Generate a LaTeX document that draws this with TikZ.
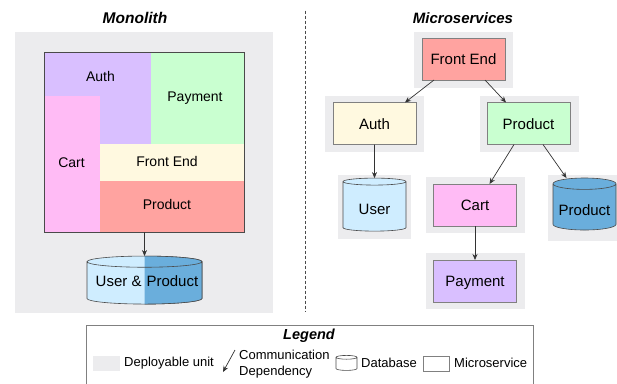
\documentclass[tikz,border=0pt]{standalone}
\usepackage{fontspec}
\setmainfont{Liberation Sans}
\usetikzlibrary{arrows.meta, shapes.geometric}
\definecolor{unitgray}{HTML}{ECECEE}
\definecolor{edgegray}{HTML}{4A4A4A}
\definecolor{authpurple}{HTML}{D9BFFF}
\definecolor{paygreen}{HTML}{C9FFD0}
\definecolor{frontyellow}{HTML}{FFF9E0}
\definecolor{cartpink}{HTML}{FFBBF5}
\definecolor{prodred}{HTML}{FFA3A0}
\definecolor{dblight}{HTML}{CFEDFF}
\definecolor{dbdark}{HTML}{6AAEDC}
\newcommand{\px}[1]{\fontsize{#1}{#1}\selectfont}

\begin{document}
\begin{tikzpicture}[
        x=1pt, y=-1pt,
        unitbox/.style={fill=unitgray, inner sep=0pt, outer sep=0pt, minimum width=99pt, minimum height=56pt},
        svcbox/.style={draw=gray, line width=0.7pt, inner sep=0pt, outer sep=0pt, minimum width=83pt, minimum height=42pt, text height=11pt, text depth=0pt, font=\px{15}},
        block/.style={inner sep=0pt, outer sep=0pt, text height=10pt, text depth=0pt, font=\px{14}},
        dbnode/.style={cylinder, shape border rotate=90, draw=edgegray, line width=0.6pt, aspect=0.22, inner sep=0pt, outer sep=0pt, font=\px{15}},
        dblabel/.style={inner sep=0pt, font=\px{15}},
        title/.style={font=\px{15.5}\bfseries\itshape},
        legendtext/.style={font=\px{13}, inner sep=0pt},
        dep/.style={-{Stealth[length=6pt, width=5pt]}, draw=black!80, line width=0.7pt}]

        \clip (0,0) rectangle (617,383);

        % --- MONOLITH ---
        \node[title] (monotitle) at (135,18) {Monolith};
        \node[fill=unitgray, inner sep=0pt, minimum width=258pt, minimum height=281pt] (monounit) at (144,172.5) {};

        % Auth is L-shaped, so it is filled by hand
        \fill[authpurple] (44.5,52) -- (151,52) -- (151,144) -- (100,144) -- (100,96) -- (44.5,96) -- cycle;
        \node[block] (monoauth) at (100.5,76) {Auth};
        \node[block, fill=paygreen, minimum width=93.5pt, minimum height=92pt] (monopay) at (197.75,98) {};
        \node[block] at (195,96) {Payment};
        \node[block, fill=cartpink, minimum width=55.5pt, minimum height=136pt] (monocart) at (72.25,164) {};
        \node[block] at (71.5,162) {Cart};
        \node[block, fill=frontyellow, minimum width=144.5pt, minimum height=37pt] (monofront) at (172.25,162.5) {};
        \node[block] at (167,161) {Front End};
        \node[block, fill=prodred, minimum width=144.5pt, minimum height=51pt] (monoprod) at (172.25,206.5) {};
        \node[block] at (167,204) {Product};
        \node[draw=edgegray, line width=0.7pt, inner sep=0pt, outer sep=0pt, minimum width=200pt, minimum height=180pt] (monoframe) at (144.5,142) {};

        % Shared database, same cylinder twice, the second one clipped to the right half
        \node[dbnode, fill=dblight, aspect=0.11, minimum width=115pt, minimum height=48pt] (monodb) at (144.5,283) {\phantom{User \& Product}};
        \begin{scope}
            \clip (144.5,240) rectangle (210,310);
            \node[dbnode, fill=dbdark, aspect=0.11, minimum width=115pt, minimum height=48pt] (monodbhalf) at (144.5,283) {\phantom{User \& Product}};
        \end{scope}
        \node[dblabel] (monodblabel) at (147,281) {User \&\hspace{5pt}Product};
        \draw[dep] (monoframe.south) -- (monodb.north);

        % Divider
        \node[inner sep=0pt] (divtop) at (305,10) {};
        \node[inner sep=0pt] (divbot) at (305,312) {};
        \draw[densely dashed, draw=edgegray, line width=0.6pt] (divtop) -- (divbot);

        % --- MICROSERVICES ---
        \node[title, font=\px{15}\bfseries\itshape] (microtitle) at (463,18) {Microservices};

        % Deployable units
        \foreach \name/\x/\y in {front/463.5/60, auth/374.5/124, prod/529.5/124, cart/475.5/205, pay/475.5/281}
            \node[unitbox] (u\name) at (\x,\y) {};
        \node[fill=unitgray, inner sep=0pt, minimum width=73pt, minimum height=64pt] (uuser) at (374.5,207) {};
        \node[fill=unitgray, inner sep=0pt, minimum width=70pt, minimum height=66pt] (uproddb) at (583,208) {};

        % Services
        \node[svcbox, fill=prodred] (front) at (463.5,59) {Front End};
        \node[svcbox, fill=frontyellow] (auth) at (374.5,123.5) {Auth};
        \node[svcbox, fill=paygreen] (prod) at (528.5,123.5) {Product};
        \node[svcbox, fill=cartpink] (cart) at (475,205) {Cart};
        \node[svcbox, fill=authpurple] (pay) at (475,281) {Payment};

        % Databases
        \node[dbnode, fill=dblight, minimum width=63pt, minimum height=53pt] (userdb) at (374.5,206.5) {\phantom{User}};
        \node[dblabel] (userlabel) at (374.5,209) {User};
        \node[dbnode, fill=dbdark, minimum width=63pt, minimum height=52pt] (proddb) at (584.5,207) {\phantom{Product}};
        \node[dblabel] (prodlabel) at (584.5,210) {Product};

        % Calls
        \draw[dep] ([xshift=12pt]front.south west) -- ([xshift=-11pt]auth.north east);
        \draw[dep] ([xshift=-20pt]front.south east) -- ([xshift=19pt]prod.north west);
        \draw[dep] (auth.south) -- (userdb.north);
        \draw[dep] ([xshift=27pt]prod.south west) -- ([xshift=-27pt]cart.north east);
        \draw[dep] ([xshift=-27pt]prod.south east) -- ([xshift=-18pt]proddb.north);
        \draw[dep] (cart.south) -- (pay.north);

        % --- LEGEND ---
        \node[draw=gray, line width=0.7pt, inner sep=0pt, minimum width=447pt, minimum height=70pt] (legend) at (309.5,360) {};
        \node[font=\px{14.5}\bfseries\itshape, inner sep=0pt] (legendtitle) at (309,336) {Legend};
        \node[fill=unitgray, inner sep=0pt, minimum width=27pt, minimum height=15pt] (keyunit) at (106.5,363.5) {};
        \node[legendtext, anchor=west] (keyunittext) at (124,363) {Deployable unit};
        \coordinate (keyfrom) at (235,350);
        \coordinate (keyto) at (223,372);
        \draw[dep] (keyfrom) -- (keyto);
        \node[legendtext, anchor=west] (keydep1) at (239,355) {Communication};
        \node[legendtext, anchor=west] (keydep2) at (239,372) {Dependency};
        \node[dbnode, fill=white, minimum width=21pt, minimum height=15pt, aspect=0.3, font=\px{6}] (keydb) at (346.5,364) {\phantom{User}};
        \node[legendtext, anchor=west] (keydbtext) at (361,363) {Database};
        \node[draw=gray, line width=0.6pt, inner sep=0pt, minimum width=26pt, minimum height=15pt] (keysvc) at (436,363.5) {};
        \node[legendtext, anchor=west] (keysvctext) at (454,363) {Microservice};

    \end{tikzpicture}
\end{document}
